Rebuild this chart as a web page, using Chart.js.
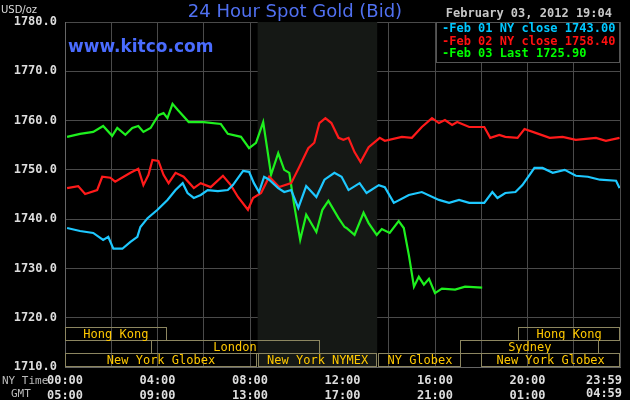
<!DOCTYPE html>
<html><head><meta charset="utf-8">
<script src="https://cdn.jsdelivr.net/npm/chart.js@4"></script>
<style>html,body{margin:0;padding:0;background:#000}#c{display:block}</style>
</head><body>
<canvas id="c" width="630" height="400"></canvas>
<script>
const blueHours=[0.09,0.65,1.22,1.65,1.87,2.09,2.48,2.83,3.13,3.26,3.57,4.0,4.43,4.78,5.09,5.3,5.57,5.87,6.17,6.61,7.04,7.26,7.7,7.96,8.17,8.39,8.61,8.83,9.22,9.48,9.78,10.09,10.43,10.87,11.22,11.65,11.96,12.26,12.74,13.04,13.57,13.83,14.22,14.87,15.43,16.17,16.61,17.04,17.48,18.13,18.48,18.7,19.04,19.48,19.78,20.09,20.3,20.65,21.09,21.61,22.09,22.61,23.13,23.83,23.98];
const blueValues=[1738.2,1737.6,1737.2,1735.8,1736.4,1734.0,1734.0,1735.4,1736.4,1738.4,1740.2,1741.9,1743.9,1745.9,1747.3,1745.3,1744.3,1744.9,1745.9,1745.7,1745.9,1746.9,1749.8,1749.6,1747.3,1745.5,1748.6,1748.0,1746.3,1745.5,1745.9,1742.3,1746.7,1744.5,1748.0,1749.4,1748.6,1745.9,1747.3,1745.3,1746.9,1746.5,1743.3,1744.9,1745.5,1743.9,1743.3,1743.9,1743.3,1743.3,1745.5,1744.3,1745.3,1745.5,1746.9,1749.0,1750.4,1750.4,1749.4,1750.0,1748.8,1748.6,1748.0,1747.8,1746.3];
const redHours=[0.09,0.57,0.87,1.39,1.61,1.96,2.17,2.83,3.17,3.39,3.61,3.78,4.04,4.26,4.48,4.78,5.13,5.57,5.87,6.3,6.83,7.17,7.48,7.91,8.13,8.48,8.83,9.26,9.78,10.13,10.52,10.78,11.0,11.26,11.52,11.83,12.04,12.26,12.52,12.78,13.13,13.61,13.83,14.57,15.0,15.43,15.87,16.17,16.43,16.74,16.96,17.48,18.13,18.39,18.78,19.04,19.57,19.87,20.35,20.96,21.52,22.09,22.96,23.39,23.98];
const redValues=[1746.3,1746.7,1745.1,1745.9,1748.6,1748.4,1747.6,1749.4,1750.2,1746.9,1749.0,1752.0,1751.8,1749.0,1747.3,1749.4,1748.6,1746.3,1747.3,1746.5,1748.8,1746.9,1744.5,1741.9,1744.3,1745.3,1748.6,1746.5,1747.3,1750.6,1754.4,1755.5,1759.5,1760.5,1759.5,1756.5,1756.1,1756.5,1753.6,1751.6,1754.6,1756.5,1755.9,1756.7,1756.5,1758.7,1760.5,1759.5,1760.1,1759.1,1759.7,1758.7,1758.7,1756.5,1757.1,1756.7,1756.5,1758.3,1757.5,1756.5,1756.7,1756.1,1756.5,1755.9,1756.5];
const greenHours=[0.09,0.65,1.22,1.65,2.04,2.26,2.61,2.91,3.17,3.39,3.7,4.04,4.26,4.43,4.65,4.87,5.35,6.0,6.74,7.04,7.61,7.96,8.26,8.57,8.74,8.91,9.22,9.48,9.7,9.91,10.17,10.43,10.87,11.13,11.39,11.83,12.09,12.17,12.52,12.91,13.13,13.48,13.7,14.04,14.43,14.65,14.87,15.09,15.3,15.52,15.74,16.0,16.3,16.87,17.3,18.04];
const greenValues=[1756.7,1757.3,1757.7,1758.9,1756.9,1758.5,1757.1,1758.5,1758.9,1757.7,1758.5,1761.1,1761.5,1760.5,1763.4,1762.2,1759.7,1759.7,1759.3,1757.3,1756.7,1754.4,1755.5,1759.7,1754.4,1749.0,1753.4,1750.0,1749.4,1742.9,1735.8,1740.9,1737.4,1741.9,1743.7,1740.2,1738.4,1738.2,1736.8,1741.3,1739.2,1736.8,1738.0,1737.2,1739.6,1738.2,1732.7,1726.3,1728.3,1726.7,1727.9,1725.0,1725.9,1725.7,1726.3,1726.1];
const nyTimeLabels={0:'00:00',4:'04:00',8:'08:00',12:'12:00',16:'16:00',20:'20:00',24:'23:59'};
const gmtLabels={0:'05:00',4:'09:00',8:'13:00',12:'17:00',16:'21:00',20:'01:00',24:'04:59'};
const legendLabels=['Feb 01 NY close 1743.00','Feb 02 NY close 1758.40','Feb 03 Last 1725.90'];
const sessionRows=[
 [['Hong Kong',0,4.4],['Hong Kong',19.6,24]],
 [['London',3.7,11.0],['Sydney',17.1,23.1]],
 [['New York Globex',0,8.3],['New York NYMEX',8.35,13.5],['NY Globex',13.55,17.15],['New York Globex',18.0,24]]
];
const shade=[8.33,13.5];
const pts=(h,v)=>h.map((x,i)=>({x:x,y:v[i]}));
const plug={id:'deco',
 beforeDatasetsDraw(c){const {ctx,chartArea:a,scales:{x}}=c;ctx.save();ctx.fillStyle='#151815';
  ctx.fillRect(x.getPixelForValue(shade[0]),a.top,x.getPixelForValue(shade[1])-x.getPixelForValue(shade[0]),a.bottom-a.top);ctx.restore();},
 afterDatasetsDraw(c){const {ctx,chartArea:a,scales:{x}}=c;ctx.save();
  const rh=13;ctx.font='12px "DejaVu Sans Mono"';ctx.textAlign='center';ctx.textBaseline='middle';
  sessionRows.forEach((row,r)=>{const y0=a.bottom-(3-r)*rh-1;row.forEach(s=>{const x0=x.getPixelForValue(s[1]),x1=x.getPixelForValue(s[2]);
   ctx.strokeStyle='#8c8660';ctx.lineWidth=1;ctx.strokeRect(Math.round(x0)+0.5,y0+0.5,Math.round(x1-x0)-1,rh);
   ctx.fillStyle='#ffc800';ctx.fillText(s[0],(x0+x1)/2,y0+rh/2+1);});});
  const lx=436,ly=a.top,lw=a.right-lx;ctx.fillStyle='#000';ctx.fillRect(lx,ly,lw,40);ctx.strokeStyle='#555';ctx.strokeRect(lx+0.5,ly+0.5,lw-1,40);
  const cols=['#00c8ff','#ff1010','#00ff00'];ctx.textAlign='left';ctx.font='bold 12px "DejaVu Sans Mono"';
  legendLabels.forEach((t,i)=>{ctx.fillStyle=cols[i];ctx.fillText('-'+t,442,ly+7+i*12.5);});
  ctx.restore();},
 afterDraw(c){const {ctx,chartArea:a}=c;ctx.save();ctx.textBaseline='middle';
  ctx.font='18px "DejaVu Sans"';ctx.fillStyle='#5070f0';ctx.textAlign='center';ctx.fillText('24 Hour Spot Gold (Bid)',295,12);
  ctx.font='bold 17px "DejaVu Sans"';ctx.fillStyle='#4a6cff';ctx.textAlign='left';ctx.fillText('www.kitco.com',68,48);
  ctx.font='10px "DejaVu Sans"';ctx.fillStyle='#ddd';ctx.fillText('USD/oz',1,10);
  ctx.font='bold 12px "DejaVu Sans Mono"';ctx.fillStyle='#c8c8c8';ctx.textAlign='right';ctx.fillText('February 03, 2012 19:04',612,14);
  ctx.fillStyle='#ddd';ctx.textAlign='center';ctx.fillText(nyTimeLabels[24],a.right-16,381);ctx.fillText(gmtLabels[24],a.right-16,394);
  ctx.font='11px "DejaVu Sans Mono"';ctx.fillStyle='#bbb';ctx.textAlign='left';ctx.fillText('NY Time',2,381);ctx.fillText('GMT',11,394);
  ctx.restore();}
};
new Chart(document.getElementById('c'),{type:'line',
 data:{datasets:[
  {data:pts(blueHours,blueValues),borderColor:'#1ec8ff'},
  {data:pts(redHours,redValues),borderColor:'#ff1a1a'},
  {data:pts(greenHours,greenValues),borderColor:'#1ef01e'}]},
 options:{responsive:false,animation:false,
  layout:{padding:{top:22,right:10,left:0,bottom:0}},
  elements:{point:{radius:0},line:{borderWidth:2.2,tension:0}},
  plugins:{legend:{display:false},tooltip:{enabled:false}},
  scales:{
   x:{type:'linear',min:0,max:24,afterFit:s=>{s.height=33;s.paddingLeft=0;s.paddingRight=0;},
    ticks:{stepSize:2,autoSkip:false,maxRotation:0,color:'#ddd',font:{family:'DejaVu Sans Mono',weight:'bold',size:12},padding:7,
     callback:v=>(v<24&&nyTimeLabels[v]!==undefined)?[nyTimeLabels[v],gmtLabels[v]]:''},
    grid:{color:'#4a4a4a',drawTicks:false},border:{color:'#666'}},
   y:{min:1710,max:1780,afterFit:s=>{s.width=65;},
    ticks:{stepSize:10,color:'#ddd',font:{family:'DejaVu Sans Mono',weight:'bold',size:12},padding:8,callback:v=>v.toFixed(1)},
    grid:{color:'#4a4a4a',drawTicks:false},border:{color:'#666'}}}},
 plugins:[plug]});
</script></body></html>
